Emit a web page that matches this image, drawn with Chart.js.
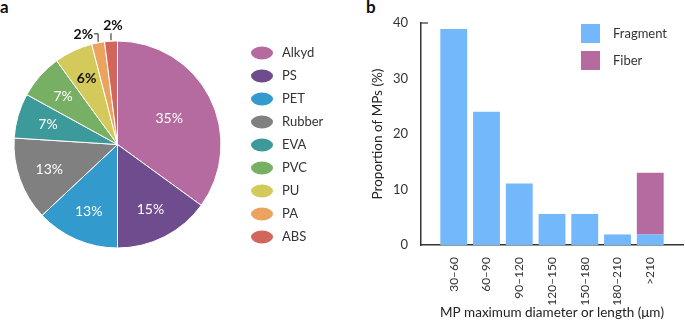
<!DOCTYPE html>
<html>
<head>
<meta charset="utf-8">
<script src="https://cdn.jsdelivr.net/npm/chart.js@4.4.1/dist/chart.umd.min.js"></script>
<style>
  body { margin: 0; background: #fff; font-family: Lato, sans-serif; }
  #wrap { position: relative; width: 685px; height: 321px; }
  canvas { position: absolute; top: 0; }
  .tag { position: absolute; font: bold 17px Lato, sans-serif; color: #111; }
</style>
</head>
<body>
<div id="wrap">
  <div class="tag" style="left:0px;top:-4px">a</div>
  <div class="tag" style="left:366px;top:-4px">b</div>
  <canvas id="pie" width="340" height="321" style="left:0"></canvas>
  <canvas id="bar" width="345" height="321" style="left:340px"></canvas>
</div>
<script>
// panel a: polymer composition
const polymers = ['Alkyd', 'PS', 'PET', 'Rubber', 'EVA', 'PVC', 'PU', 'PA', 'ABS'];
const polymerShare = [35, 15, 13, 13, 7, 7, 6, 2, 2];
const polymerColors = ['#b56aa0', '#6f4c8d', '#339acd', '#808080', '#3d9a9b', '#77b064', '#d4ca5b', '#eba45f', '#d3665c'];

// panel b: size distribution
const sizeClasses = ['30–60', '60–90', '90–120', '120–150', '150–180', '180–210', '>210'];
const fragmentPct = [38.9, 24.0, 11.1, 5.6, 5.6, 1.9, 1.9];
const fiberPct = [0, 0, 0, 0, 0, 0, 11.1];
const yTicks = [0, 10, 20, 30, 40];

Chart.defaults.font.family = 'Lato, sans-serif';
Chart.defaults.color = '#333';

const pieLabels = {
  id: 'pieLabels',
  afterDatasetsDraw(chart) {
    const ctx = chart.ctx;
    const meta = chart.getDatasetMeta(0);
    ctx.save();
    meta.data.forEach((arc, i) => {
      const p = arc.getProps(['x', 'y', 'startAngle', 'endAngle', 'outerRadius'], true);
      const mid = (p.startAngle + p.endAngle) / 2;
      const text = polymerShare[i] + '%';
      if (polymerShare[i] <= 2) {
        const ex = p.x + Math.cos(mid) * p.outerRadius;
        const ey = p.y + Math.sin(mid) * p.outerRadius;
        ctx.strokeStyle = '#222';
        ctx.lineWidth = 1;
        ctx.fillStyle = '#111';
        ctx.font = 'bold 14px Lato, sans-serif';
        ctx.beginPath();
        if (i === 7) {
          ctx.moveTo(ex, ey - 1);
          ctx.lineTo(ex, ey - 9);
          ctx.lineTo(ex - 4, ey - 9);
          ctx.stroke();
          ctx.textAlign = 'right';
          ctx.textBaseline = 'middle';
          ctx.fillText(text, ex - 5, ey - 8);
        } else {
          ctx.moveTo(ex, ey - 1);
          ctx.lineTo(ex, ey - 8);
          ctx.stroke();
          ctx.textAlign = 'center';
          ctx.textBaseline = 'bottom';
          ctx.fillText(text, ex + 2, ey - 9);
        }
        return;
      }
      const f = i === 0 ? 0.56 : 0.7;
      const tx = p.x + Math.cos(mid) * p.outerRadius * f;
      const ty = p.y + Math.sin(mid) * p.outerRadius * f;
      ctx.textAlign = 'center';
      ctx.textBaseline = 'middle';
      if (i === 6) {
        ctx.fillStyle = '#111';
        ctx.font = 'bold 14px Lato, sans-serif';
      } else {
        ctx.fillStyle = '#fff';
        ctx.font = '14px Lato, sans-serif';
      }
      ctx.fillText(text, tx, ty);
    });

    // legend with ellipse markers
    ctx.font = '13px Lato, sans-serif';
    ctx.textAlign = 'left';
    ctx.textBaseline = 'middle';
    polymers.forEach((name, i) => {
      const cy = 53 + i * 23;
      ctx.fillStyle = polymerColors[i];
      ctx.beginPath();
      ctx.ellipse(262, cy, 11, 6.5, 0, 0, Math.PI * 2);
      ctx.fill();
      ctx.fillStyle = '#333';
      ctx.fillText(name, 282, cy);
    });
    ctx.restore();
  }
};

new Chart(document.getElementById('pie'), {
  type: 'pie',
  data: {
    labels: polymers,
    datasets: [{
      data: polymerShare,
      backgroundColor: polymerColors,
      borderColor: '#fff',
      borderWidth: 1
    }]
  },
  options: {
    responsive: false,
    animation: false,
    layout: { padding: { left: 13.5, right: 118.5, top: 40.5, bottom: 72.5 } },
    plugins: { legend: { display: false }, tooltip: { enabled: false } }
  },
  plugins: [pieLabels]
});

const barLegend = {
  id: 'barLegend',
  afterDraw(chart) {
    const ctx = chart.ctx;
    const y = chart.scales.y;
    ctx.save();
    // small cap at the top of the y axis
    ctx.strokeStyle = '#333';
    ctx.lineWidth = 1.2;
    ctx.beginPath();
    ctx.moveTo(chart.chartArea.left, y.getPixelForValue(40));
    ctx.lineTo(chart.chartArea.left + 7, y.getPixelForValue(40));
    ctx.stroke();
    ctx.font = '13px Lato, sans-serif';
    ctx.textAlign = 'left';
    ctx.textBaseline = 'middle';
    chart.data.datasets.forEach((ds, i) => {
      const top = 24 + i * 27;
      ctx.fillStyle = ds.backgroundColor;
      ctx.fillRect(241, top, 19, 19);
      ctx.fillStyle = '#333';
      ctx.fillText(ds.label, 273, top + 10);
    });
    ctx.restore();
  }
};

const pad = arr => [null, ...arr, null];

new Chart(document.getElementById('bar'), {
  type: 'bar',
  data: {
    labels: ['', ...sizeClasses, ''],
    datasets: [
      { label: 'Fragment', data: pad(fragmentPct), backgroundColor: '#74b8fc', borderWidth: 0 },
      { label: 'Fiber', data: pad(fiberPct), backgroundColor: '#b56b9f', borderWidth: 0 }
    ]
  },
  options: {
    responsive: false,
    animation: false,
    categoryPercentage: 1,
    barPercentage: 0.82,
    layout: { padding: { top: 23, right: 2, left: 0, bottom: 0 } },
    plugins: { legend: { display: false }, tooltip: { enabled: false } },
    scales: {
      x: {
        stacked: true,
        offset: false,
        grid: { display: false, drawTicks: false },
        border: { display: true, color: '#333', width: 1.5 },
        ticks: { autoSkip: false, maxRotation: 90, minRotation: 90, padding: 12, font: { size: 12 }, color: '#333' },
        title: { display: true, text: 'MP maximum diameter or length (μm)', font: { size: 13.5 }, color: '#222', padding: { top: 0, bottom: 0 } },
        afterFit(s) { s.height = 76; s.paddingLeft = 0; s.paddingRight = 0; }
      },
      y: {
        stacked: true,
        min: yTicks[0],
        max: yTicks[yTicks.length - 1],
        afterBuildTicks(s) { s.ticks = yTicks.map(v => ({ value: v })); },
        grid: { display: false, drawTicks: false },
        border: { display: true, color: '#333', width: 1.5 },
        ticks: { padding: 13, font: { size: 13 }, color: '#333' },
        title: { display: true, text: 'Proportion of MPs (%)', font: { size: 13.5 }, color: '#222', padding: { top: 30, bottom: 0 } },
        afterFit(s) { s.width = 81; s.paddingTop = 0; s.paddingBottom = 0; }
      }
    }
  },
  plugins: [barLegend]
});
</script>
</body>
</html>
